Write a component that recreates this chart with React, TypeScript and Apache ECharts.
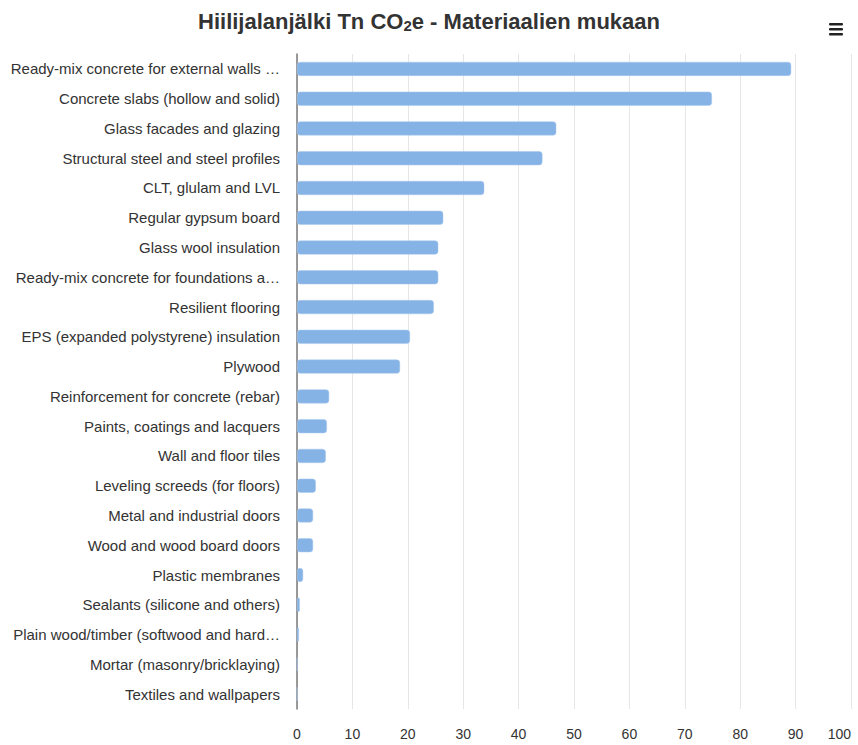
import React, { useEffect, useRef } from "react";
import * as echarts from "echarts";

const categories = [
  "Ready-mix concrete for external walls …",
  "Concrete slabs (hollow and solid)",
  "Glass facades and glazing",
  "Structural steel and steel profiles",
  "CLT, glulam and LVL",
  "Regular gypsum board",
  "Glass wool insulation",
  "Ready-mix concrete for foundations a…",
  "Resilient flooring",
  "EPS (expanded polystyrene) insulation",
  "Plywood",
  "Reinforcement for concrete (rebar)",
  "Paints, coatings and lacquers",
  "Wall and floor tiles",
  "Leveling screeds (for floors)",
  "Metal and industrial doors",
  "Wood and wood board doors",
  "Plastic membranes",
  "Sealants (silicone and others)",
  "Plain wood/timber (softwood and hard…",
  "Mortar (masonry/bricklaying)",
  "Textiles and wallpapers",
];

const values = [
  89.2, 74.9, 46.8, 44.3, 33.8, 26.4, 25.5, 25.5, 24.7, 20.4, 18.6,
  5.8, 5.4, 5.2, 3.4, 2.9, 2.9, 1.1, 0.5, 0.35, 0.1, 0.05,
];

const xMin = 0;
const xMax = 100;
const xInterval = 10;

export default function App() {
  const ref = useRef<HTMLDivElement>(null);
  useEffect(() => {
    if (!ref.current) return;
    const chart = echarts.init(ref.current, null, { renderer: "svg" });
    const font = "'Liberation Sans', Arial, sans-serif";
    chart.setOption({
      animation: false,
      backgroundColor: "#ffffff",
      textStyle: { fontFamily: font },
      title: {
        text: "{t|Hiilijalanjälki Tn CO}{s|2}{t|e - Materiaalien mukaan}",
        left: "center",
        top: 4,
        textStyle: {
          rich: {
            t: { fontSize: 22, fontWeight: "bold", color: "#333333", fontFamily: font },
            s: { fontSize: 15, fontWeight: "bold", color: "#333333", fontFamily: font, verticalAlign: "bottom", padding: [9, 0, 0, 0] },
          },
        },
      },
      graphic: [
        { type: "rect", shape: { x: 829, y: 23, width: 14, height: 2.5, r: 1 }, style: { fill: "#222" } },
        { type: "rect", shape: { x: 829, y: 28, width: 14, height: 2.5, r: 1 }, style: { fill: "#222" } },
        { type: "rect", shape: { x: 829, y: 33, width: 14, height: 2.5, r: 1 }, style: { fill: "#222" } },
      ],
      grid: { left: 297, right: 7, top: 54, bottom: 36, containLabel: false },
      xAxis: {
        type: "value",
        min: xMin,
        max: xMax,
        interval: xInterval,
        axisLine: { show: false },
        axisTick: { show: false },
        splitLine: { show: true, lineStyle: { color: "#e6e6e6", width: 1 } },
        axisLabel: { color: "#333333", fontSize: 14, margin: 18, alignMaxLabel: "right", fontFamily: font },
      },
      yAxis: {
        type: "category",
        data: categories,
        inverse: true,
        axisLine: { show: true, lineStyle: { color: "#7a7a7a", width: 1.5 } },
        axisTick: { show: false },
        splitLine: { show: false },
        axisLabel: { color: "#333333", fontSize: 15, margin: 17, fontFamily: font },
      },
      series: [
        {
          type: "bar",
          data: values,
          barWidth: 14,
          itemStyle: { color: "#86b3e6", borderRadius: 3, borderColor: "#a9c9ee", borderWidth: 0.5 },
        },
      ],
    });
    return () => chart.dispose();
  }, []);
  return (
    <div
      ref={ref}
      style={{ position: "fixed", left: 0, top: 0, width: 858, height: 745 }}
    />
  );
}
